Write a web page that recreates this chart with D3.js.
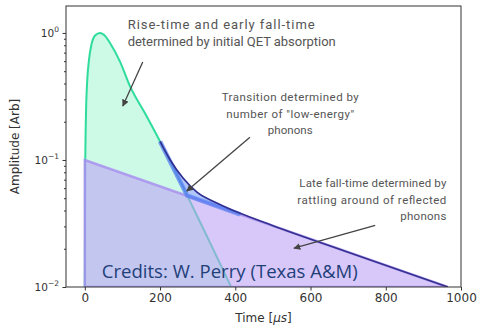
<!DOCTYPE html>
<html>
<head>
<meta charset="utf-8">
<script src="https://cdn.jsdelivr.net/npm/d3@7"></script>
<style>
  body { margin: 0; background: #fff; }
  svg { display: block; }
</style>
</head>
<body>
<div id="chart"></div>
<script>
// fast pulse (QET absorption)
var tFast = [0, 1, 3, 6, 11, 18, 28, 40, 55, 67, 93, 120, 160, 200, 272, 389];
var vFast = [0.01, 0.08, 0.22, 0.4, 0.61, 0.82, 0.96, 1.0, 0.94, 0.834, 0.60, 0.381, 0.233, 0.14, 0.0525, 0.01];

// slow component (reflected phonons)
var tSlow = [0, 0, 965];
var vSlow = [0.01, 0.1, 0.01];

// total envelope, from where it leaves the fast pulse
var tTotal = [200, 227, 261, 298, 352, 413, 500, 700, 965];
var vTotal = [0.14, 0.1, 0.072, 0.0558, 0.0457, 0.038, 0.0304, 0.0188, 0.01];

// lower edge of the transition region (slow line then fast line)
var tTransLow = [413, 272, 200];
var vTransLow = [0.0373, 0.0525, 0.14];

var xTicks = [0, 200, 400, 600, 800, 1000];
var yMajor = [1, 0.1, 0.01];
var yMajorExp = ["0", "\u22121", "\u22122"];

var notes = [
  {lines: ["Rise-time and early fall-time", "determined by initial QET absorption"], t: 114, v: 1.075, anchor: "start", size: 13, widths: [187, 208], gap: 17},
  {lines: ["Transition determined by", "number of \"low-energy\"", "phonons"], t: 546, v: 0.29, anchor: "middle", size: 11.5, widths: [137, 128, 45], gap: 16.5},
  {lines: ["Late fall-time determined by", "rattling around of reflected", "phonons"], t: 961, v: 0.0611, anchor: "end", size: 11.5, widths: [147, 149, 46], gap: 16.5}
];
var arrows = [
  {t0: 154, v0: 0.59, t1: 101, v1: 0.266},
  {t0: 439, v0: 0.151, t1: 271, v1: 0.0569},
  {t0: 772, v0: 0.0306, t1: 556, v1: 0.0202}
];

function init() {
  var W = 479, H = 327;
  var m = {left: 66, top: 6, right: 18, bottom: 40};

  var svg = d3.select("#chart").append("svg")
    .attr("width", W)
    .attr("height", H);

  var x = d3.scaleLinear().domain([-50, 1000]).range([m.left, W - m.right]);
  var y = d3.scaleLog().domain([0.01, 1.63]).range([H - m.bottom, m.top]);

  var defs = svg.append("defs");
  defs.append("clipPath").attr("id", "plotclip")
    .append("rect")
      .attr("x", m.left).attr("y", m.top)
      .attr("width", W - m.left - m.right)
      .attr("height", H - m.top - m.bottom);

  defs.append("marker")
      .attr("id", "head")
      .attr("viewBox", "0 0 10 10")
      .attr("refX", 9).attr("refY", 5)
      .attr("markerWidth", 7).attr("markerHeight", 7)
      .attr("markerUnits", "userSpaceOnUse")
      .attr("orient", "auto")
    .append("path")
      .attr("d", "M0,0 L10,5 L0,10 Z")
      .attr("fill", "#444");

  var plot = svg.append("g").attr("clip-path", "url(#plotclip)");

  var smooth = d3.line()
    .x(function(d) { return x(d[0]); })
    .y(function(d) { return y(d[1]); })
    .curve(d3.curveMonotoneX);
  var straight = d3.line()
    .x(function(d) { return x(d[0]); })
    .y(function(d) { return y(d[1]); });

  var fast = d3.zip(tFast, vFast);
  var slow = d3.zip(tSlow, vSlow);
  var total = d3.zip(tTotal, vTotal);
  var transLow = d3.zip(tTransLow, vTransLow);

  // fast pulse
  plot.append("path")
    .attr("d", smooth(fast) + "Z")
    .attr("fill", "rgb(60,235,160)")
    .attr("fill-opacity", 0.26)
    .attr("stroke", "#2edc9c")
    .attr("stroke-width", 2);

  // slow component
  plot.append("path")
    .attr("d", straight(slow) + "Z")
    .attr("fill", "rgb(188,163,245)")
    .attr("fill-opacity", 0.6)
    .attr("stroke", "#a88cf0")
    .attr("stroke-width", 2.5)
    .attr("stroke-opacity", 0.8);

  // transition region
  var topPart = total.filter(function(d) { return d[0] <= 413; });
  plot.append("path")
    .attr("d", smooth(topPart) + straight(transLow).replace("M", "L") + "Z")
    .attr("fill", "rgb(70,120,245)")
    .attr("fill-opacity", 0.42)
    .attr("stroke", "#5d82f2")
    .attr("stroke-width", 1.5)
    .attr("stroke-opacity", 0.6);

  plot.append("path")
    .attr("d", straight(transLow))
    .attr("fill", "none")
    .attr("stroke", "#5d82f2")
    .attr("stroke-width", 4.5)
    .attr("stroke-opacity", 0.75);

  // total envelope
  plot.append("path")
    .attr("d", smooth(total))
    .attr("fill", "none")
    .attr("stroke", "#33308f")
    .attr("stroke-width", 1.6);

  // credits
  svg.append("text")
    .attr("x", x(45))
    .attr("y", y(0.0117))
    .attr("font-family", "Open Sans")
    .attr("font-size", 18)
    .attr("fill", "#1f3f7a")
    .attr("textLength", 256)
    .attr("lengthAdjust", "spacingAndGlyphs")
    .text("Credits: W. Perry (Texas A&M)");

  // axes
  var xAxis = d3.axisBottom(x).tickValues(xTicks).tickSize(3.5).tickPadding(3).tickFormat(d3.format("d"));
  var gx = svg.append("g")
    .attr("transform", "translate(0," + (H - m.bottom) + ")")
    .call(xAxis);
  gx.selectAll("text")
    .attr("font-family", "DejaVu Sans")
    .attr("font-size", 12)
    .attr("fill", "#333");

  var minors = [];
  [0.01, 0.1, 1].forEach(function(dec) {
    for (var k = 2; k <= 9; k++) if (dec * k < 1.63) minors.push(dec * k);
  });
  svg.append("g")
    .attr("transform", "translate(" + m.left + ",0)")
    .call(d3.axisLeft(y).tickValues(minors).tickSize(2).tickFormat(""));

  svg.append("g")
    .attr("transform", "translate(" + m.left + ",0)")
    .call(d3.axisLeft(y).tickValues(yMajor).tickSize(3.5).tickFormat(""));

  yMajor.forEach(function(v, i) {
    var lab = svg.append("text")
      .attr("x", m.left - 7)
      .attr("y", y(v) + 4)
      .attr("text-anchor", "end")
      .attr("font-family", "DejaVu Sans")
      .attr("font-size", 10.5)
      .attr("fill", "#333");
    lab.append("tspan").text("10");
    lab.append("tspan")
      .attr("dy", -5)
      .attr("font-size", 7.5)
      .text(yMajorExp[i]);
  });

  svg.selectAll(".domain").remove();
  svg.selectAll(".tick line").attr("stroke", "#333");

  // box
  svg.append("rect")
    .attr("x", m.left).attr("y", m.top)
    .attr("width", W - m.left - m.right)
    .attr("height", H - m.top - m.bottom)
    .attr("fill", "none")
    .attr("stroke", "#333")
    .attr("stroke-width", 1);

  // axis labels
  var xl = svg.append("text")
    .attr("x", x(475))
    .attr("y", H - 5)
    .attr("text-anchor", "middle")
    .attr("font-family", "DejaVu Sans")
    .attr("font-size", 12)
    .attr("fill", "#333");
  xl.append("tspan").text("Time [");
  xl.append("tspan").attr("font-style", "italic").text("\u03bcs");
  xl.append("tspan").text("]");

  svg.append("text")
    .attr("transform", "translate(19," + ((m.top + H - m.bottom) / 2) + ") rotate(-90)")
    .attr("text-anchor", "middle")
    .attr("font-family", "DejaVu Sans")
    .attr("font-size", 12)
    .attr("fill", "#333")
    .text("Amplitude [Arb]");

  // annotations
  notes.forEach(function(n) {
    n.lines.forEach(function(s, i) {
      svg.append("text")
        .attr("x", x(n.t))
        .attr("y", y(n.v) + i * n.gap)
        .attr("text-anchor", n.anchor)
        .attr("font-family", "Roboto")
        .attr("font-size", n.size)
        .attr("fill", "#555")
        .attr("textLength", n.widths[i])
        .attr("lengthAdjust", "spacing")
        .text(s);
    });
  });

  svg.selectAll("line.arrow")
    .data(arrows)
    .enter()
    .append("line")
      .attr("class", "arrow")
      .attr("x1", function(d) { return x(d.t0); })
      .attr("y1", function(d) { return y(d.v0); })
      .attr("x2", function(d) { return x(d.t1); })
      .attr("y2", function(d) { return y(d.v1); })
      .attr("stroke", "#444")
      .attr("stroke-width", 1.3)
      .attr("marker-end", "url(#head)");
}

window.onload = init;
</script>
</body>
</html>
